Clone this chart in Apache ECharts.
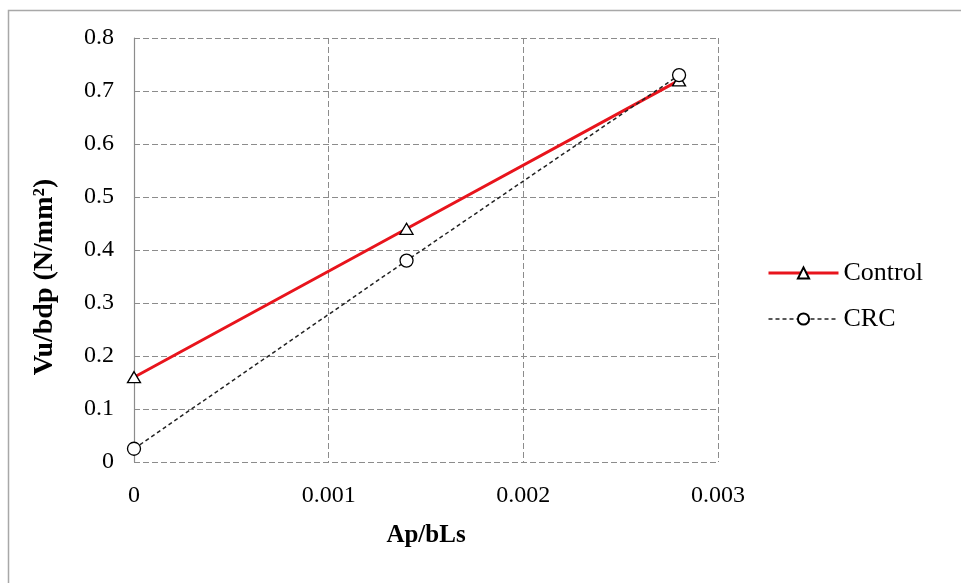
<!DOCTYPE html>
<html>
<head>
<meta charset="utf-8">
<script src="https://cdn.jsdelivr.net/npm/echarts@6/dist/echarts.min.js"></script>
<style>html,body{margin:0;padding:0;background:#fff;}#c{width:961px;height:583px;}</style>
</head>
<body>
<div id="c"></div>
<script>
const xValues = [0, 0.0014, 0.0028];
const controlValues = [0.16, 0.44, 0.72];
const crcValues = [0.025, 0.38, 0.73];
const seriesNames = ['Control', 'CRC'];
const xTicks = ['0', '0.001', '0.002', '0.003'];
const yTicks = ['0', '0.1', '0.2', '0.3', '0.4', '0.5', '0.6', '0.7', '0.8'];

const font = 'Liberation Serif, Times New Roman, serif';
const chart = echarts.init(document.getElementById('c'));
const gridLine = { show: true, lineStyle: { color: '#8c8c8c', type: [6, 3], width: 1 } };
chart.setOption({
  animation: false,
  backgroundColor: '#fff',
  graphic: [{
    type: 'rect', silent: true,
    shape: { x: 8.5, y: 10.5, width: 980, height: 600 },
    style: { fill: 'none', stroke: '#a8a8a8', lineWidth: 1.5 }
  }],
  grid: { left: 134, right: 243, top: 38, bottom: 121 },
  legend: {
    orient: 'vertical', left: 767, top: 260, padding: 0,
    itemWidth: 70, itemHeight: 14, itemGap: 20,
    textStyle: { fontFamily: font, fontSize: 26, color: '#000' },
    data: [
      { name: seriesNames[0], lineStyle: { width: 3, color: '#e8141c' } },
      { name: seriesNames[1], lineStyle: { width: 1.5, color: '#222', type: [4, 3] } }
    ]
  },
  xAxis: {
    type: 'value', min: 0, max: 0.003, interval: 0.001,
    name: 'Ap/bLs', nameLocation: 'middle', nameGap: 61,
    nameTextStyle: { fontFamily: font, fontSize: 25, fontWeight: 'bold', color: '#000' },
    axisLine: { show: false }, axisTick: { show: false },
    axisLabel: { fontFamily: font, fontSize: 24, color: '#000', margin: 22,
      formatter: v => xTicks[Math.round(v / 0.001)] },
    splitLine: gridLine
  },
  yAxis: {
    type: 'value', min: 0, max: 0.8, interval: 0.1,
    name: 'Vu/bdp (N/mm²)', nameLocation: 'middle', nameGap: 75,
    nameTextStyle: { fontFamily: font, fontSize: 28, fontWeight: 'bold', color: '#000',
      padding: [0, 54, 0, 0] },
    axisLine: { show: true, lineStyle: { color: '#8c8c8c', width: 1.2 } },
    axisTick: { show: false },
    axisLabel: { fontFamily: font, fontSize: 24, color: '#000', margin: 20,
      formatter: v => yTicks[Math.round(v / 0.1)] },
    splitLine: gridLine
  },
  series: [
    {
      name: seriesNames[0], type: 'line',
      data: xValues.map((x, i) => [x, controlValues[i]]),
      symbol: 'triangle', symbolSize: [13, 11],
      lineStyle: { color: '#e8141c', width: 3 },
      itemStyle: { color: '#fff', borderColor: '#000', borderWidth: 1.3 },
      z: 2
    },
    {
      name: seriesNames[1], type: 'line',
      data: xValues.map((x, i) => [x, crcValues[i]]),
      symbol: 'circle', symbolSize: 13,
      lineStyle: { color: '#222', width: 1.5, type: [4, 3] },
      itemStyle: { color: '#fff', borderColor: '#000', borderWidth: 1.3 },
      z: 3
    }
  ]
});
</script>
</body>
</html>
